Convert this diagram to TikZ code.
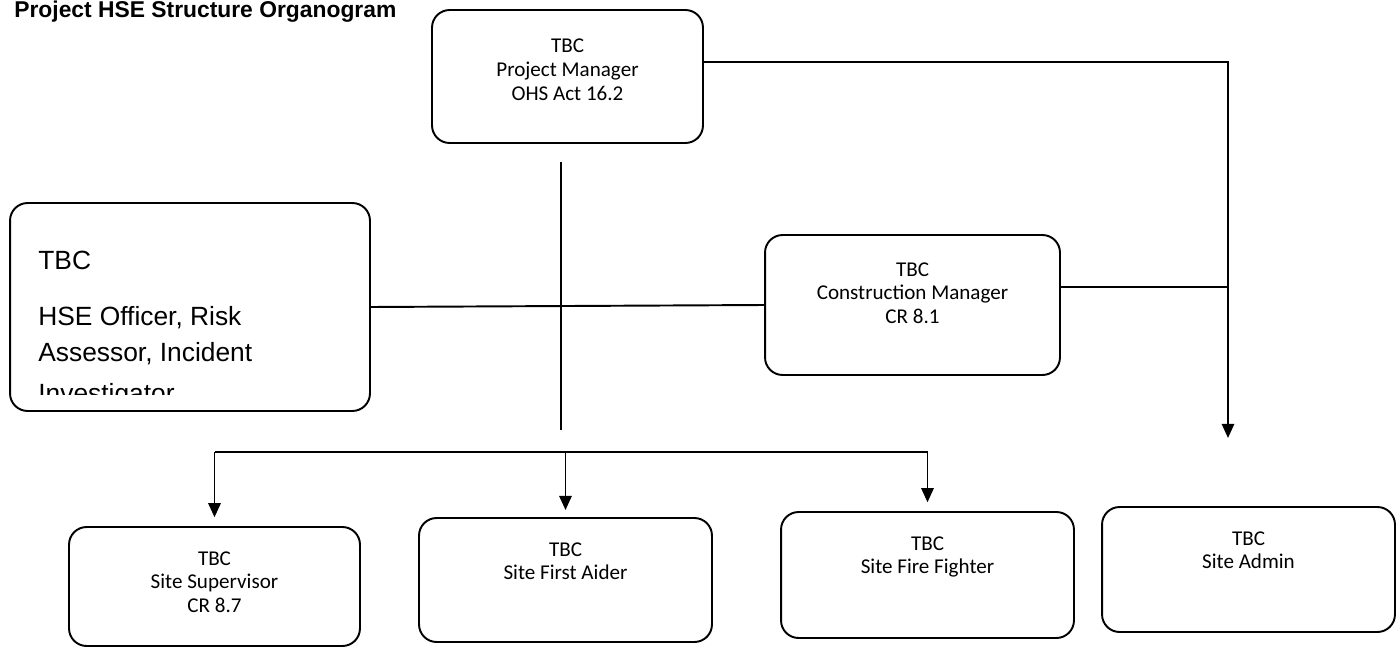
\documentclass[tikz,border=0pt]{standalone}
\usepackage{fontspec}
\usepackage{tikz}
\usetikzlibrary{arrows.meta}
\newfontfamily\calibri{Carlito}
\newfontfamily\arial{Liberation Sans}

\tikzset{
  box/.style={draw, rounded corners=10pt, line width=1.1pt, inner sep=0pt},
  lbl/.style={font=\calibri\fontsize{12}{13.5}\selectfont, align=center, inner sep=0pt},
  conn/.style={line width=1.1pt},
  arr/.style={conn, -{Triangle[length=8pt,width=7pt]}},
}

\begin{document}
\begin{tikzpicture}[x=0.02cm,y=-0.02cm]
  \useasboundingbox (0,0) rectangle (1400,649);

  % title
  \node[anchor=base west, inner sep=0pt, font=\arial\bfseries\fontsize{13}{16}\selectfont] (title) at (14,17) {Project HSE Structure Organogram};

  % boxes
  \node[box, minimum width=5.42cm, minimum height=2.66cm,
        label={[lbl, anchor=north, yshift=-17pt]north:TBC\\Project Manager\\OHS Act 16.2}] (pm) at (567.5,76.5) {};
  \node[box, minimum width=7.2cm, minimum height=4.16cm] (hse) at (190,307) {};
  \node[box, minimum width=5.9cm, minimum height=2.8cm,
        label={[lbl, anchor=north, yshift=-15.9pt]north:TBC\\Construction Manager\\CR 8.1}] (cm) at (912.5,305) {};

  \node[box, minimum width=5.82cm, minimum height=2.38cm,
        label={[lbl, anchor=north, yshift=-14.2pt]north:TBC\\Site Supervisor\\CR 8.7}] (sup) at (214.5,586.5) {};
  \node[box, minimum width=5.86cm, minimum height=2.48cm,
        label={[lbl, anchor=north, yshift=-14.2pt]north:TBC\\Site First Aider}] (aider) at (565.5,580) {};
  \node[box, minimum width=5.86cm, minimum height=2.52cm,
        label={[lbl, anchor=north, yshift=-14.2pt]north:TBC\\Site Fire Fighter}] (fire) at (927.5,575) {};
  \node[box, minimum width=5.86cm, minimum height=2.5cm,
        label={[lbl, anchor=north, yshift=-14.2pt]north:TBC\\Site Admin}] (admin) at (1248.5,569.5) {};

  % HSE text, last line cut off by the box
  \begin{scope}
    \clip (hse.north west) rectangle ([yshift=10pt]hse.south east);
    \node[anchor=north west, align=left, inner sep=0pt, font=\arial\fontsize{15}{20.5}\selectfont] (hsetext) at (38,251)
      {TBC\\[11pt]HSE Officer, Risk\\Assessor, Incident\\[3pt]Investigator};
  \end{scope}

  % connectors
  \coordinate (admTip) at (1228,438);
  \coordinate (vTop) at (561,162);
  \coordinate (vBot) at (561,430);
  \coordinate (bus) at (561,452);
  \path ([yshift=10pt]cm.east) coordinate (cmOut);

  \draw[arr] ([yshift=8pt]pm.east) -| (admTip);
  \draw[conn] (cmOut) -- (cmOut -| admTip);
  \draw[conn] (hse.east) -- (cm.west);
  \draw[conn] (vTop) -- (vBot);

  \draw[arr, shorten >=5pt] (bus -| sup.north) -- (sup.north);
  \draw[arr, shorten >=5pt] (bus -| sup.north) -| (fire.north);
  \draw[arr, shorten >=4pt] (bus -| aider.north) -- (aider.north);
\end{tikzpicture}
\end{document}
